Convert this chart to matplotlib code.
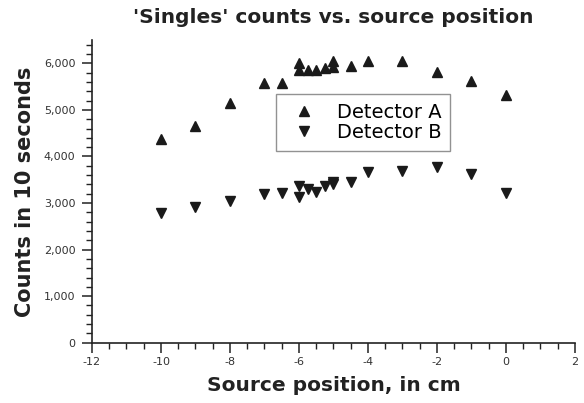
import numpy as np
import matplotlib
matplotlib.use("Agg")
import matplotlib.pyplot as plt
from matplotlib.ticker import MultipleLocator, FuncFormatter

plt.rcParams["axes.unicode_minus"] = False

# source position (cm) and counts in 10 s
position = [-10, -9, -8, -7, -6.5, -6, -6, -5.75, -5.5, -5.25, -5, -5, -4.5, -4, -3, -2, -1, 0]
det_a = [4370, 4650, 5150, 5580, 5570, 6000, 5860, 5860, 5860, 5890, 6040, 5930, 5940, 6050, 6040, 5820, 5610, 5330]
det_b = [2780, 2920, 3050, 3190, 3220, 3360, 3130, 3310, 3230, 3370, 3460, 3400, 3460, 3670, 3690, 3780, 3620, 3210]

fig = plt.figure(figsize=(5.84, 4.03), dpi=100)
ax = fig.add_axes([0.1575, 0.1496, 0.827, 0.751])

ax.plot(position, det_a, linestyle="none", marker="^", ms=7, color="#1a1a1a", label="Detector A")
ax.plot(position, det_b, linestyle="none", marker="v", ms=7, color="#1a1a1a", label="Detector B")

ax.set_xlim(-12, 2)
ax.set_ylim(0, 6500)
ax.xaxis.set_major_locator(MultipleLocator(2))
ax.xaxis.set_minor_locator(MultipleLocator(0.5))
ax.yaxis.set_major_locator(MultipleLocator(1000))
ax.yaxis.set_minor_locator(MultipleLocator(200))
ax.yaxis.set_major_formatter(FuncFormatter(lambda v, p: f"{int(v):,}"))

for s in ["top", "right"]:
    ax.spines[s].set_visible(False)
for s in ["left", "bottom"]:
    ax.spines[s].set_color("#222222")
    ax.spines[s].set_linewidth(1.2)

ax.tick_params(which="major", direction="out", length=7, width=1.1, color="#222222",
               labelsize=8, labelcolor="#333333")
ax.tick_params(axis="y", which="major", pad=5)
ax.tick_params(which="minor", direction="out", length=4, width=1, color="#222222")

ax.set_title("'Singles' counts vs. source position", fontsize=14.5, fontweight="bold",
             color="#222222", pad=12)
ax.set_xlabel("Source position, in cm", fontsize=14.5, fontweight="bold", color="#222222",
              labelpad=6)
ax.set_ylabel("Counts in 10 seconds", fontsize=15, fontweight="bold", color="#222222",
              labelpad=6)

leg = ax.legend(loc="center", bbox_to_anchor=(0.561, 0.727), fontsize=14, frameon=True,
                fancybox=False, edgecolor="#777777", handletextpad=0.7, borderpad=0.45,
                labelspacing=0.05, handlelength=2.0)
leg.get_frame().set_linewidth(1.0)

fig.savefig("out.png", dpi=100)
